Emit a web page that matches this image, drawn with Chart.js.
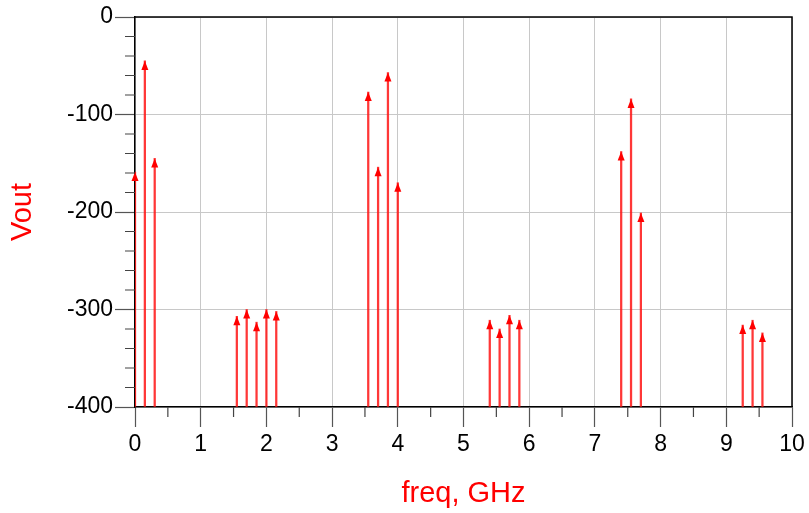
<!DOCTYPE html>
<html>
<head>
<meta charset="utf-8">
<script src="https://cdn.jsdelivr.net/npm/chart.js@4.4.1/dist/chart.umd.min.js"></script>
<style>
  html, body { margin: 0; padding: 0; background: #fff; }
  #wrap { width: 809px; height: 513px; }
</style>
</head>
<body>
<div id="wrap"><canvas id="spectrum"></canvas></div>
<script>
// スペクトル (freq GHz / Vout)
const freqs = [0, 0.15, 0.3, 1.55, 1.7, 1.85, 2.0, 2.15, 3.55, 3.7, 3.85, 4.0, 5.4, 5.55, 5.7, 5.85, 7.4, 7.55, 7.7, 9.25, 9.4, 9.55];
const vout = [-159, -45, -145, -307, -300, -313, -300, -302, -77, -154, -57, -170, -311, -320, -306, -311, -138, -84, -201, -316, -311, -324];

const xTicks = [0, 1, 2, 3, 4, 5, 6, 7, 8, 9, 10];
const xMinor = [0.5, 1.5, 2.5, 3.5, 4.5, 5.5, 6.5, 7.5, 8.5, 9.5];
const yTicks = [-400, -300, -200, -100, 0];
const yMinor = [-380, -360, -340, -320, -280, -260, -240, -220, -180, -160, -140, -120, -80, -60, -40, -20];

const FONT = "'Liberation Sans', Arial, sans-serif";

// 矢印と枠線を描くプラグイン
const stemPlugin = {
  id: "stem-arrows",
  afterDatasetsDraw(chart) {
    const { ctx, chartArea, scales } = chart;
    const meta = chart.getDatasetMeta(0);

    ctx.save();
    // 矢印
    ctx.fillStyle = "#ff0000";
    meta.data.forEach((bar) => {
      ctx.beginPath();
      ctx.moveTo(bar.x, bar.y);
      ctx.lineTo(bar.x - 3.5, bar.y + 9);
      ctx.lineTo(bar.x + 3.5, bar.y + 9);
      ctx.closePath();
      ctx.fill();
    });

    // 上と右の枠
    ctx.strokeStyle = "#000";
    ctx.lineWidth = 1.5;
    ctx.beginPath();
    ctx.moveTo(chartArea.left, chartArea.top);
    ctx.lineTo(chartArea.right, chartArea.top);
    ctx.lineTo(chartArea.right, chartArea.bottom);
    ctx.stroke();

    // 補助目盛
    ctx.strokeStyle = "#444";
    ctx.lineWidth = 1.2;
    ctx.beginPath();
    yMinor.forEach((v) => {
      const y = scales.y.getPixelForValue(v);
      ctx.moveTo(chartArea.left - 10, y);
      ctx.lineTo(chartArea.left, y);
    });
    xMinor.forEach((v) => {
      const x = scales.x.getPixelForValue(v);
      ctx.moveTo(x, chartArea.bottom);
      ctx.lineTo(x, chartArea.bottom + 10);
    });
    ctx.stroke();
    ctx.restore();
  },
};

document.addEventListener("DOMContentLoaded", () => {
  const ctx = document.getElementById("spectrum");
  new Chart(ctx, {
    type: "bar",
    data: {
      datasets: [
        {
          data: freqs.map((f, i) => ({ x: f, y: vout[i] })),
          base: -400,
          barThickness: 1.6,
          backgroundColor: "rgba(255, 20, 20, 0.85)",
          borderWidth: 0,
        },
      ],
    },
    options: {
      responsive: true,
      maintainAspectRatio: false,
      animation: false,
      layout: { padding: { top: 17, right: 17, left: 0, bottom: 0 } },
      plugins: {
        legend: { display: false },
        tooltip: { enabled: false },
      },
      scales: {
        x: {
          type: "linear",
          min: 0,
          max: 10,
          offset: false,
          afterBuildTicks: (s) => {
            s.ticks = xTicks.map((v) => ({ value: v }));
          },
          afterFit: (s) => {
            s.height = 106;
          },
          grid: {
            offset: false,
            color: "#c8c8c8",
            lineWidth: 1,
            tickColor: "#555",
            tickLength: 20,
            tickWidth: 1.2,
          },
          border: { color: "#000", width: 1.5 },
          ticks: {
            color: "#000",
            padding: 4,
            maxRotation: 0,
            font: { family: FONT, size: 23 },
          },
          title: {
            display: true,
            text: "freq, GHz",
            color: "#ff0000",
            padding: { top: 0, bottom: 2 },
            font: { family: FONT, size: 29 },
          },
        },
        y: {
          min: -400,
          max: 0,
          afterBuildTicks: (s) => {
            s.ticks = yTicks.map((v) => ({ value: v }));
          },
          afterFit: (s) => {
            s.width = 135;
          },
          grid: {
            color: "#c8c8c8",
            lineWidth: 1,
            tickColor: "#555",
            tickLength: 20,
            tickWidth: 1.2,
          },
          border: { color: "#000", width: 1.5 },
          ticks: {
            color: "#000",
            padding: 2,
            font: { family: FONT, size: 23 },
          },
          title: {
            display: true,
            text: "Vout",
            color: "#ff0000",
            padding: { top: 6, bottom: 0 },
            font: { family: FONT, size: 29 },
          },
        },
      },
    },
    plugins: [stemPlugin],
  });
});
</script>
</body>
</html>
